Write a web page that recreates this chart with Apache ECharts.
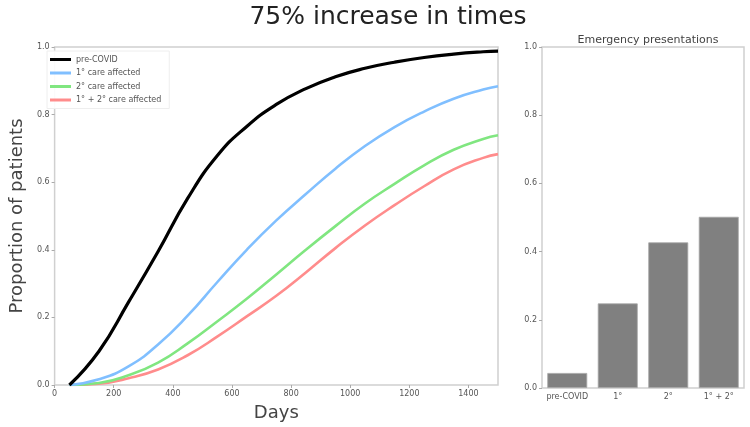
<!DOCTYPE html>
<html>
<head>
<meta charset="utf-8">
<script src="https://cdn.jsdelivr.net/npm/echarts@6/dist/echarts.min.js"></script>
<style>html,body{margin:0;padding:0;background:#fff}#c{width:750px;height:427px}</style>
</head>
<body>
<div id="c"></div>
<script>
var days = [50, 150, 250, 350, 450, 550, 650, 750, 850, 950, 1050, 1150, 1250, 1350, 1450, 1500];
var preCovid = [0, 0.1, 0.245, 0.395, 0.552, 0.678, 0.765, 0.83, 0.877, 0.912, 0.937, 0.955, 0.969, 0.979, 0.986, 0.988];
var primary = [0, 0.017, 0.055, 0.12, 0.205, 0.304, 0.4, 0.487, 0.565, 0.64, 0.707, 0.763, 0.809, 0.847, 0.874, 0.884];
var secondary = [0, 0.006, 0.029, 0.066, 0.123, 0.188, 0.255, 0.327, 0.4, 0.47, 0.537, 0.595, 0.65, 0.696, 0.728, 0.739];
var both = [0, 0.004, 0.02, 0.046, 0.088, 0.143, 0.203, 0.264, 0.333, 0.405, 0.472, 0.532, 0.588, 0.638, 0.672, 0.683];
var seriesNames = ['pre-COVID', '1° care affected', '2° care affected', '1° + 2° care affected'];
var barCategories = ['pre-COVID', '1°', '2°', '1° + 2°'];
var barValues = [0.044, 0.248, 0.427, 0.502];

function pairs(vals) { return days.map(function (d, i) { return [d, vals[i]]; }); }

var colors = ['#000000', '#80bfff', '#80e680', '#ff8c8c'];
var lineData = [preCovid, primary, secondary, both];
var font = 'DejaVu Sans';
var tickLabel = { fontSize: 8, color: '#555', fontFamily: font };
var tickStyle = { show: true, length: 3, lineStyle: { color: '#aaa', width: 1 } };

var series = lineData.map(function (v, i) {
  return {
    name: seriesNames[i], type: 'line', xAxisIndex: 0, yAxisIndex: 0,
    data: pairs(v), smooth: 0.5, showSymbol: false, symbol: 'none',
    lineStyle: { color: colors[i], width: i === 0 ? 3.2 : 2.6 },
    itemStyle: { color: colors[i] }, z: 10 - i
  };
});
series.push({
  type: 'bar', xAxisIndex: 1, yAxisIndex: 1, data: barValues,
  barCategoryGap: '21%',
  itemStyle: { color: '#808080', borderColor: '#a6a6a6', borderWidth: 0.8 }
});

var chart = echarts.init(document.getElementById('c'), null, { renderer: 'canvas' });
chart.setOption({
  animation: false,
  backgroundColor: '#fff',
  title: [
    { text: '75% increase in times', left: 383, top: 0, textAlign: 'center',
      textStyle: { fontSize: 25, fontWeight: 'normal', color: '#222', fontFamily: font } },
    { text: 'Emergency presentations', left: 643, top: 30, textAlign: 'center',
      textStyle: { fontSize: 11, fontWeight: 'normal', color: '#444', fontFamily: font } }
  ],
  legend: {
    data: seriesNames, orient: 'vertical', left: 47, top: 51,
    icon: 'rect', itemWidth: 21, itemHeight: 3, itemGap: 4.5,
    padding: [4, 8, 4, 3],
    backgroundColor: 'rgba(255,255,255,0.9)', borderColor: '#eeeeee', borderWidth: 1,
    textStyle: { fontSize: 8, color: '#555', fontFamily: font, lineHeight: 9 }
  },
  grid: [
    { left: 44, top: 47, width: 454, height: 341, show: true, borderColor: '#d0d0d0', borderWidth: 1.5, backgroundColor: '#fff' },
    { left: 542, top: 47, width: 202, height: 341, show: true, borderColor: '#d0d0d0', borderWidth: 1.5, backgroundColor: '#fff' }
  ],
  xAxis: [
    { type: 'value', gridIndex: 0, min: 0, max: 1500, interval: 200,
      axisLine: { show: false }, axisTick: tickStyle, splitLine: { show: false },
      axisLabel: Object.assign({ margin: 5, showMaxLabel: false, formatter: function (v) { return String(v); } }, tickLabel),
      name: 'Days', nameLocation: 'middle', nameGap: 19,
      nameTextStyle: { fontSize: 18, color: '#444', fontFamily: font } },
    { type: 'category', gridIndex: 1, data: barCategories,
      axisLine: { show: false }, axisTick: { show: false }, splitLine: { show: false },
      axisLabel: Object.assign({ margin: 5, interval: 0 }, tickLabel) }
  ],
  yAxis: [
    { type: 'value', gridIndex: 0, min: 0, max: 1, interval: 0.2,
      axisLine: { show: false }, axisTick: tickStyle, splitLine: { show: false },
      axisLabel: Object.assign({ margin: 5, formatter: function (v) { return v.toFixed(1); } }, tickLabel),
      name: 'Proportion of patients', nameLocation: 'middle', nameGap: 26,
      nameTextStyle: { fontSize: 18, color: '#444', fontFamily: font } },
    { type: 'value', gridIndex: 1, min: 0, max: 1, interval: 0.2,
      axisLine: { show: false }, axisTick: tickStyle, splitLine: { show: false },
      axisLabel: Object.assign({ margin: 5, formatter: function (v) { return v.toFixed(1); } }, tickLabel) }
  ],
  series: series
});
</script>
</body>
</html>
